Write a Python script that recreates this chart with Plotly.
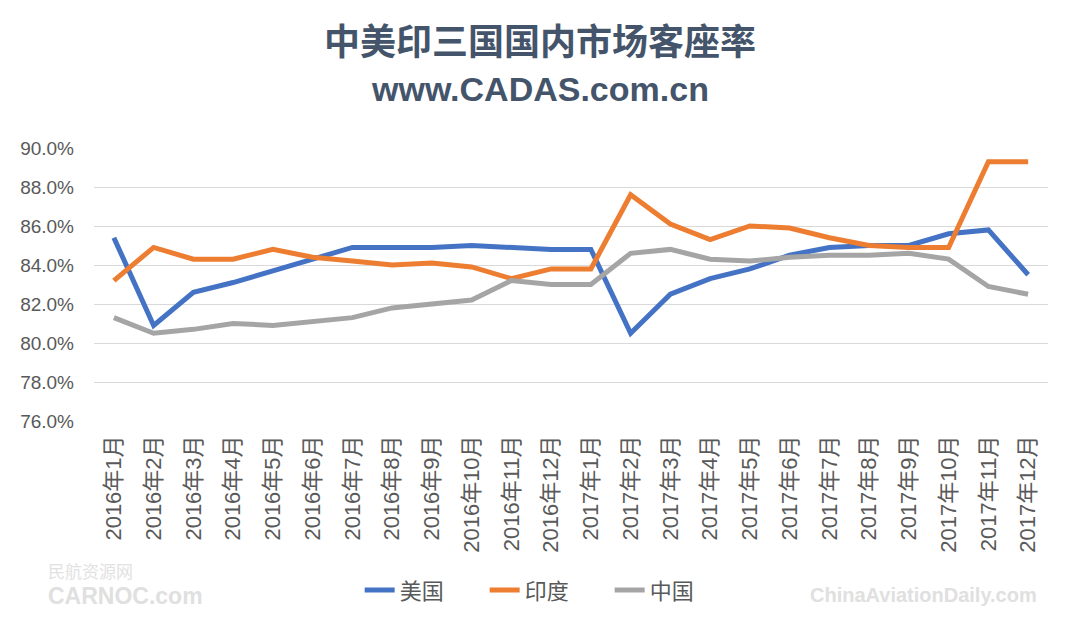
import plotly.graph_objects as go

months = ["2016年1月", "2016年2月", "2016年3月", "2016年4月", "2016年5月", "2016年6月",
          "2016年7月", "2016年8月", "2016年9月", "2016年10月", "2016年11月", "2016年12月",
          "2017年1月", "2017年2月", "2017年3月", "2017年4月", "2017年5月", "2017年6月",
          "2017年7月", "2017年8月", "2017年9月", "2017年10月", "2017年11月", "2017年12月"]

usa = [85.4, 80.9, 82.6, 83.1, 83.7, 84.3, 84.9, 84.9, 84.9, 85.0, 84.9, 84.8,
       84.8, 80.5, 82.5, 83.3, 83.8, 84.5, 84.9, 85.0, 85.0, 85.6, 85.8, 83.5]
india = [83.2, 84.9, 84.3, 84.3, 84.8, 84.4, 84.2, 84.0, 84.1, 83.9, 83.3, 83.8,
         83.8, 87.6, 86.1, 85.3, 86.0, 85.9, 85.4, 85.0, 84.9, 84.9, 89.3, 89.3]
china = [81.3, 80.5, 80.7, 81.0, 80.9, 81.1, 81.3, 81.8, 82.0, 82.2, 83.2, 83.0,
         83.0, 84.6, 84.8, 84.3, 84.2, 84.4, 84.5, 84.5, 84.6, 84.3, 82.9, 82.5]

series_names = ["美国", "印度", "中国"]
series_colors = ["#4472C4", "#ED7D31", "#A5A5A5"]

FONT = "Liberation Sans, Noto Sans CJK SC, sans-serif"

fig = go.Figure()
for name, vals, col in zip(series_names, [usa, india, china], series_colors):
    fig.add_trace(go.Scatter(x=months, y=vals, name=name, mode="lines",
                             line=dict(color=col, width=5)))

# page has an 8px body margin; the figure is sized/offset to compensate
fig.update_layout(
    width=1060, height=615,
    paper_bgcolor="white", plot_bgcolor="white",
    margin=dict(l=79, r=20, t=140, b=201),
    font=dict(family=FONT, color="#595959", size=17),
    showlegend=True,
    legend=dict(orientation="h", x=0.475, xanchor="center", y=-0.62, yanchor="middle",
                font=dict(size=22, color="#595959", family=FONT),
                entrywidth=80, entrywidthmode="pixels",
                tracegroupgap=0),
    xaxis=dict(type="category", tickangle=-90, showgrid=False, zeroline=False,
               showline=False, ticks="", ticklabelstandoff=9,
               tickfont=dict(size=22, color="#595959"),
               range=[-0.5, len(months) - 0.5]),
    yaxis=dict(range=[76, 90], dtick=2, tick0=76, tickformat=".1f", ticksuffix="%",
               showgrid=True, gridcolor="#D9D9D9", gridwidth=1, zeroline=False,
               showline=False, ticks="", ticklabelstandoff=19,
               tickfont=dict(size=19, color="#595959")),
)

fig.add_annotation(text="<b>中美印三国国内市场客座率</b>", xref="paper", yref="paper",
                   x=0.468, y=1, xanchor="center", yanchor="middle",
                   yshift=109, showarrow=False,
                   font=dict(size=36, color="#44546A", family="Noto Sans CJK SC"))
fig.add_annotation(text="<b>www.CADAS.com.cn</b>", xref="paper", yref="paper",
                   x=0.468, y=1, xanchor="center", yanchor="middle",
                   yshift=59, showarrow=False,
                   font=dict(size=34, color="#44546A", family="Liberation Sans"))

# watermarks
fig.add_annotation(text="民航资源网", xref="paper", yref="paper", x=-0.05, y=0,
                   xanchor="left", yanchor="middle", yshift=-(571 - 422), showarrow=False,
                   font=dict(size=17, color="#E2E2E2", family="Noto Sans CJK SC"))
fig.add_annotation(text="<b>CARNOC.com</b>", xref="paper", yref="paper", x=-0.05, y=0,
                   xanchor="left", yanchor="middle", yshift=-(597 - 422), showarrow=False,
                   font=dict(size=23, color="#E0E0E0", family="Liberation Sans"))
fig.add_annotation(text="<b>ChinaAviationDaily.com</b>", xref="paper", yref="paper", x=0.991, y=0,
                   xanchor="right", yanchor="middle", yshift=-(596 - 422), showarrow=False,
                   font=dict(size=20, color="#E0E0E0", family="Liberation Sans"))

fig.write_html("out.html")
